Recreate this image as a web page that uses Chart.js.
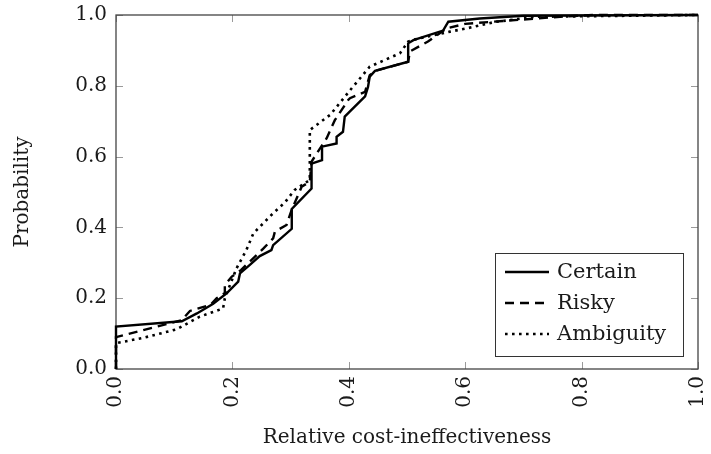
<!DOCTYPE html>
<html>
<head>
<meta charset="utf-8">
<script src="https://cdn.jsdelivr.net/npm/chart.js@4.4.0/dist/chart.umd.min.js"></script>
<style>
  html, body { margin: 0; padding: 0; background: #fff; }
  #wrap { width: 711px; height: 454px; }
</style>
</head>
<body>
<div id="wrap"><canvas id="myChart" width="711" height="454"></canvas></div>
<script>
// data
const seriesNames = ['Certain', 'Risky', 'Ambiguity'];
const axisTicks = [0, 0.2, 0.4, 0.6, 0.8, 1.0];

const certainX = [0, 0, 0.113, 0.139, 0.167, 0.19, 0.21, 0.213, 0.23, 0.247, 0.267, 0.27, 0.302, 0.302, 0.336, 0.336, 0.354, 0.354, 0.379, 0.379, 0.39, 0.393, 0.402, 0.428, 0.433, 0.436, 0.445, 0.502, 0.502, 0.511, 0.562, 0.571, 0.625, 0.7, 1.0];
const certainY = [0, 0.12, 0.135, 0.157, 0.184, 0.214, 0.247, 0.27, 0.294, 0.319, 0.336, 0.35, 0.396, 0.452, 0.51, 0.58, 0.59, 0.628, 0.637, 0.656, 0.67, 0.713, 0.728, 0.77, 0.797, 0.826, 0.842, 0.868, 0.92, 0.929, 0.956, 0.981, 0.99, 0.998, 1.0];

const riskyX = [0, 0, 0.113, 0.127, 0.162, 0.173, 0.187, 0.187, 0.199, 0.215, 0.253, 0.27, 0.273, 0.293, 0.302, 0.319, 0.333, 0.336, 0.362, 0.376, 0.399, 0.402, 0.428, 0.436, 0.445, 0.502, 0.505, 0.536, 0.568, 0.6, 0.648, 0.706, 0.763, 0.82, 1.0];
const riskyY = [0, 0.09, 0.138, 0.164, 0.181, 0.2, 0.215, 0.237, 0.261, 0.28, 0.34, 0.369, 0.388, 0.407, 0.45, 0.515, 0.529, 0.586, 0.652, 0.703, 0.76, 0.765, 0.783, 0.83, 0.842, 0.868, 0.897, 0.925, 0.962, 0.975, 0.981, 0.988, 0.995, 1.0, 1.0];

const ambiguityX = [0, 0, 0.047, 0.104, 0.144, 0.184, 0.187, 0.207, 0.224, 0.236, 0.27, 0.29, 0.307, 0.333, 0.333, 0.368, 0.405, 0.436, 0.488, 0.502, 0.511, 0.574, 0.602, 0.65, 0.72, 1.0];
const ambiguityY = [0, 0.073, 0.088, 0.112, 0.148, 0.171, 0.2, 0.284, 0.336, 0.383, 0.44, 0.47, 0.506, 0.534, 0.675, 0.718, 0.793, 0.854, 0.892, 0.925, 0.93, 0.953, 0.962, 0.98, 0.995, 1.0];

const FONT = 'DejaVu Serif';
const INK = '#1a1a1a';

function toPoints(xs, ys) {
  return xs.map((x, i) => ({ x: x, y: ys[i] }));
}

// frame with inward ticks on all four sides (pgfplots look)
const framePlugin = {
  id: 'frame',
  beforeDatasetsDraw(chart) {
    const { ctx, chartArea: a, scales } = chart;
    ctx.save();
    ctx.strokeStyle = '#9a9a9a';
    ctx.lineWidth = 1;
    axisTicks.forEach(t => {
      const px = Math.round(scales.x.getPixelForValue(t)) + 0.5;
      const py = Math.round(scales.y.getPixelForValue(t)) + 0.5;
      ctx.beginPath();
      ctx.moveTo(px, a.bottom); ctx.lineTo(px, a.bottom - 7);
      ctx.moveTo(px, a.top); ctx.lineTo(px, a.top + 7);
      ctx.moveTo(a.left, py); ctx.lineTo(a.left + 7, py);
      ctx.moveTo(a.right, py); ctx.lineTo(a.right - 7, py);
      ctx.stroke();
    });
    ctx.strokeStyle = '#444';
    ctx.lineWidth = 1.3;
    ctx.strokeRect(a.left, a.top, a.right - a.left, a.bottom - a.top);
    ctx.restore();
  },
  afterDatasetsDraw(chart) {
    // legend box inside the plot, lower right
    const { ctx, chartArea: a } = chart;
    const w = 188, h = 103;
    const x0 = a.right - 15 - w, y0 = a.bottom - 13 - h;
    ctx.save();
    ctx.fillStyle = '#fff';
    ctx.fillRect(x0, y0, w, h);
    ctx.strokeStyle = '#333';
    ctx.lineWidth = 1;
    ctx.strokeRect(Math.round(x0) + 0.5, Math.round(y0) + 0.5, w, h);
    ctx.font = '21px "' + FONT + '"';
    ctx.textBaseline = 'middle';
    chart.data.datasets.forEach((ds, i) => {
      const yy = y0 + 19 + i * 31;
      ctx.beginPath();
      ctx.setLineDash(ds.borderDash || []);
      ctx.lineWidth = ds.borderWidth;
      ctx.strokeStyle = ds.borderColor;
      ctx.moveTo(x0 + 10, yy);
      ctx.lineTo(x0 + 54, yy);
      ctx.stroke();
      ctx.setLineDash([]);
      ctx.fillStyle = INK;
      ctx.fillText(ds.label, x0 + 62, yy + 1);
    });
    ctx.restore();
  }
};

const ctx = document.getElementById('myChart');

new Chart(ctx, {
  type: 'scatter',
  data: {
    datasets: [{
      label: seriesNames[0],
      data: toPoints(certainX, certainY),
      borderColor: '#000',
      borderWidth: 2.4,
      borderDash: [],
    },
    {
      label: seriesNames[1],
      data: toPoints(riskyX, riskyY),
      borderColor: '#000',
      borderWidth: 2.4,
      borderDash: [9, 6],
    },
    {
      label: seriesNames[2],
      data: toPoints(ambiguityX, ambiguityY),
      borderColor: '#000',
      borderWidth: 2.6,
      borderDash: [2.6, 4.4],
    }]
  },
  options: {
    responsive: false,
    animation: false,
    layout: { padding: { top: 15, right: 13, left: 0, bottom: 0 } },
    elements: {
      point: { radius: 0, hoverRadius: 0 },
      line: { tension: 0, fill: false }
    },
    datasets: { scatter: { showLine: true, clip: 6 } },
    plugins: {
      legend: { display: false },
      tooltip: { enabled: false }
    },
    scales: {
      x: {
        type: 'linear',
        min: 0,
        max: 1,
        afterFit: s => { s.height = 85; s.paddingRight = 0; s.paddingLeft = 0; },
        afterBuildTicks: s => { s.ticks = axisTicks.map(v => ({ value: v })); },
        grid: { display: false, drawTicks: false },
        border: { display: false },
        ticks: {
          maxRotation: 90,
          minRotation: 90,
          padding: 7,
          color: INK,
          font: { family: FONT, size: 20 },
          callback: v => v.toFixed(1)
        },
        title: {
          display: true,
          text: 'Relative cost-ineffectiveness',
          color: INK,
          font: { family: FONT, size: 20 },
          padding: { top: 0, bottom: 4 }
        }
      },
      y: {
        min: 0,
        max: 1,
        afterFit: s => { s.width = 116; s.paddingTop = 0; s.paddingBottom = 0; },
        afterBuildTicks: s => { s.ticks = axisTicks.map(v => ({ value: v })); },
        grid: { display: false, drawTicks: false },
        border: { display: false },
        ticks: {
          padding: 9,
          color: INK,
          font: { family: FONT, size: 20 },
          callback: v => v.toFixed(1)
        },
        title: {
          display: true,
          text: 'Probability',
          color: INK,
          font: { family: FONT, size: 20 },
          padding: { top: 11, bottom: 0 }
        }
      }
    }
  },
  plugins: [framePlugin]
});
</script>
</body>
</html>
